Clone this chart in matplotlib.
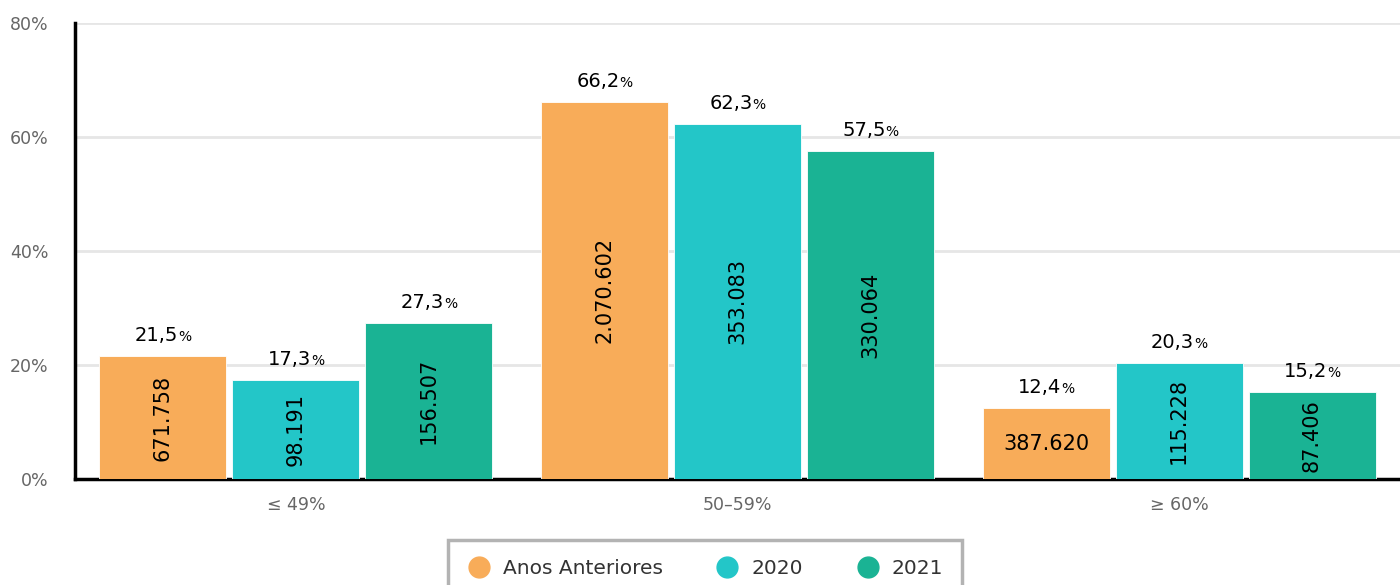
import numpy as np
import matplotlib
matplotlib.use("Agg")
from matplotlib import pyplot as plt
from matplotlib.offsetbox import TextArea, HPacker, AnnotationBbox
from matplotlib.lines import Line2D

# dados
categorias = ["≤ 49%", "50–59%", "≥ 60%"]
series = ["Anos Anteriores", "2020", "2021"]
pct_anteriores = [21.5, 66.2, 12.4]
pct_2020 = [17.3, 62.3, 20.3]
pct_2021 = [27.3, 57.5, 15.2]
n_anteriores = ["671.758", "2.070.602", "387.620"]
n_2020 = ["98.191", "353.083", "115.228"]
n_2021 = ["156.507", "330.064", "87.406"]
cores = ["#f8ac59", "#23c6c8", "#1ab394"]

plt.rcParams['font.family'] = ['DejaVu Sans']

fig = plt.figure(figsize=(14, 5.85), dpi=100)
ax = fig.add_axes([75/1400, 1-479/585, 1-75/1400, (479-23)/585])

x = np.arange(len(categorias))
larg = 0.288
passo = 0.301
valores = [pct_anteriores, pct_2020, pct_2021]
numeros = [n_anteriores, n_2020, n_2021]

for i in range(3):
    pos = x + (i-1)*passo
    rects = ax.bar(pos, valores[i], width=larg, color=cores[i], zorder=3,
                   edgecolor="white", linewidth=0.6)
    for j, rect in enumerate(rects):
        h = rect.get_height()
        # valor no topo
        t1 = TextArea(("%.1f" % h).replace(".", ","), textprops=dict(size=14, color="black"))
        t2 = TextArea("%", textprops=dict(size=10, color="black"))
        box = HPacker(children=[t1, t2], align="baseline", pad=0, sep=0)
        ab = AnnotationBbox(box, (rect.get_x()+rect.get_width()/2, h), xybox=(0, 8),
                            xycoords="data", boxcoords="offset points",
                            box_alignment=(0.5, 0), frameon=False)
        ax.add_artist(ab)
        # numero dentro da barra
        rot = 0 if (i == 0 and j == 2) else 90
        ax.text(rect.get_x()+rect.get_width()/2, h/2, numeros[i][j], rotation=rot,
                ha="center", va="center", size=15, color="black", zorder=4)

ax.set_xlim(-0.5, 2.5)
ax.set_ylim(0, 80)
ax.set_yticks([0, 20, 40, 60, 80])
ax.set_yticklabels(["0%", "20%", "40%", "60%", "80%"])
ax.set_xticks(x)
ax.set_xticklabels(categorias)
ax.tick_params(axis="both", length=0, colors="#666666", labelsize=12.5)
ax.tick_params(axis="x", pad=12)
ax.tick_params(axis="y", pad=19)
ax.yaxis.grid(True, color="#e6e6e6", linewidth=2, zorder=0)
ax.set_axisbelow(True)
for s in ["top", "right"]:
    ax.spines[s].set_visible(False)
ax.spines["left"].set_linewidth(2.5)
ax.spines["bottom"].set_linewidth(2.5)
ax.spines["left"].set_color("black")
ax.spines["bottom"].set_color("black")

handles = [Line2D([], [], marker="o", linestyle="", markersize=15, color=c) for c in cores]
leg = fig.legend(handles, series, loc="upper center", bbox_to_anchor=(705/1400, 1-540/585),
                 ncol=3, frameon=True, fancybox=False, fontsize=14.5, handletextpad=0.6,
                 columnspacing=2.6, borderpad=0.95, borderaxespad=0, handlelength=1.2)
leg.get_frame().set_edgecolor("#a0a0a0")
leg.get_frame().set_linewidth(2.5)
for t in leg.get_texts():
    t.set_color("#333333")

plt.savefig("out.png", dpi=100)
